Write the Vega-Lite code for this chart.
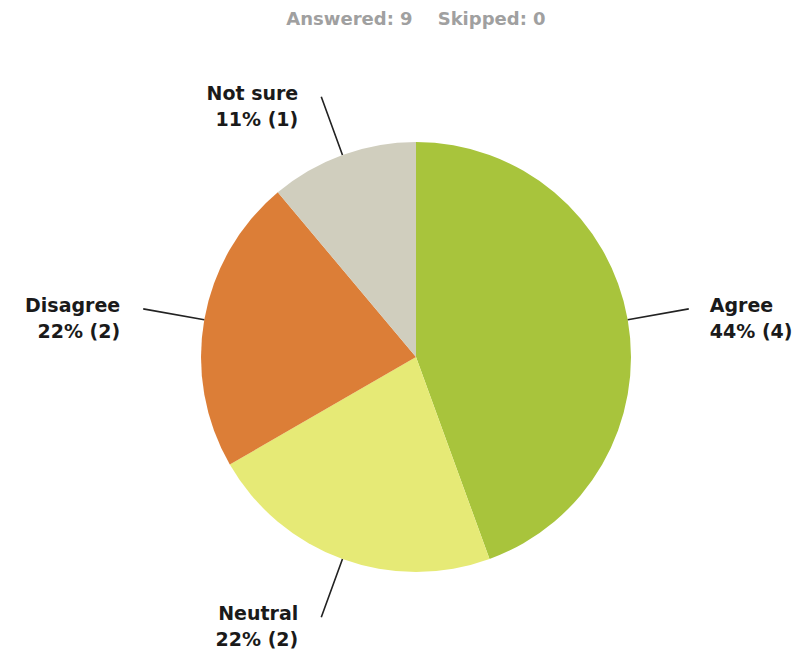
{
  "$schema": "https://vega.github.io/schema/vega-lite/v6.json",
  "width": 768,
  "height": 586,
  "autosize": {"type": "none"},
  "padding": {"left": 32, "top": 64, "right": 0, "bottom": 0},
  "background": "white",
  "title": {
    "text": "Answered: 9\u00a0\u00a0\u00a0\u00a0Skipped: 0",
    "font": "DejaVu Sans",
    "fontSize": 18,
    "fontWeight": "bold",
    "color": "#a0a0a0",
    "anchor": "middle",
    "offset": 35
  },
  "config": {"view": {"stroke": null}},
  "data": {
    "values": [
      {"answer": "Agree", "count": 4, "order": 1},
      {"answer": "Neutral", "count": 2, "order": 2},
      {"answer": "Disagree", "count": 2, "order": 3},
      {"answer": "Not sure", "count": 1, "order": 4}
    ]
  },
  "transform": [
    {"joinaggregate": [{"op": "sum", "field": "count", "as": "total"}]},
    {"stack": "count", "groupby": [], "sort": [{"field": "order", "order": "ascending"}], "as": ["c0", "c1"]},
    {"calculate": "(datum.c0 + datum.c1) / 2", "as": "mid"},
    {"calculate": "datum.answer + '\\n' + round(100 * datum.count / datum.total) + '% (' + datum.count + ')'", "as": "label"}
  ],
  "layer": [
    {
      "mark": {"type": "arc", "outerRadius": 215},
      "encoding": {
        "theta": {"field": "c0", "type": "quantitative", "scale": {"domain": [0, 9]}},
        "theta2": {"field": "c1"},
        "color": {
          "field": "answer",
          "type": "nominal",
          "scale": {
            "domain": ["Agree", "Neutral", "Disagree", "Not sure"],
            "range": ["#a8c43c", "#e6ea76", "#dc7e37", "#d0cebe"]
          },
          "legend": null
        }
      }
    },
    {
      "mark": {"type": "arc", "innerRadius": 215, "outerRadius": 277, "padAngle": 3.14, "fill": null, "stroke": "#222222", "strokeWidth": 1.6},
      "encoding": {
        "theta": {"field": "c0", "type": "quantitative"},
        "theta2": {"field": "c1"}
      }
    },
    {
      "transform": [{"filter": "datum.mid < datum.total / 2"}],
      "mark": {"type": "text", "radius": 277, "dx": 21, "dy": -3, "align": "left", "baseline": "middle", "lineBreak": "\n", "lineHeight": 26, "font": "DejaVu Sans", "fontSize": 19, "fontWeight": "bold", "fill": "#1a1a1a"},
      "encoding": {
        "theta": {"field": "mid", "type": "quantitative"},
        "text": {"field": "label", "type": "nominal"}
      }
    },
    {
      "transform": [{"filter": "datum.mid >= datum.total / 2"}],
      "mark": {"type": "text", "radius": 277, "dx": -23, "dy": -3, "align": "right", "baseline": "middle", "lineBreak": "\n", "lineHeight": 26, "font": "DejaVu Sans", "fontSize": 19, "fontWeight": "bold", "fill": "#1a1a1a"},
      "encoding": {
        "theta": {"field": "mid", "type": "quantitative"},
        "text": {"field": "label", "type": "nominal"}
      }
    }
  ]
}
